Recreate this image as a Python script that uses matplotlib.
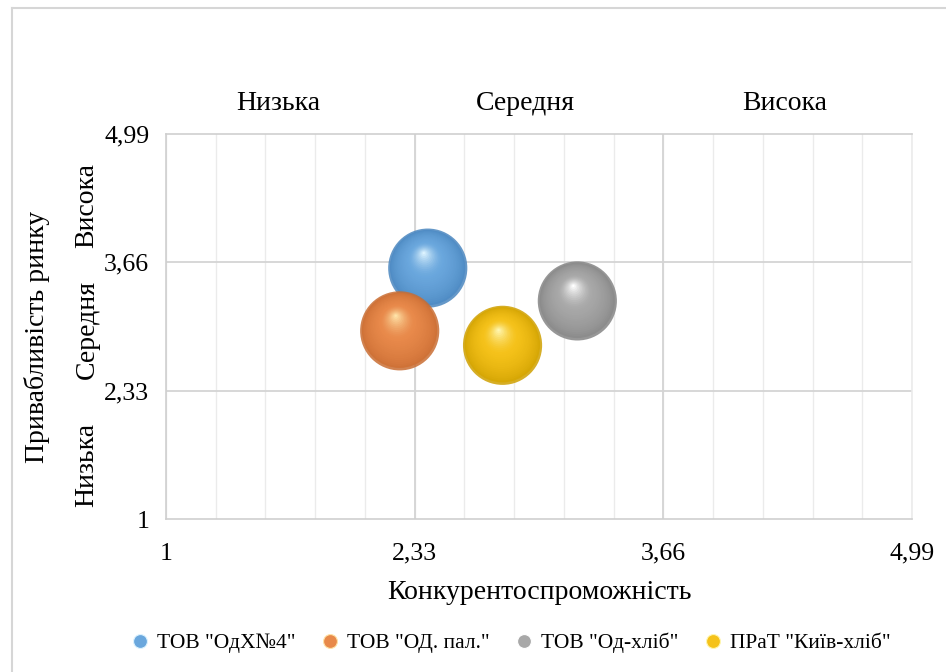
import numpy as np
import matplotlib
matplotlib.use("Agg")
import matplotlib.pyplot as plt
from matplotlib.transforms import ScaledTranslation, blended_transform_factory
from matplotlib.colors import to_rgb
from matplotlib.lines import Line2D

plt.rcParams['font.family'] = ['Liberation Serif', 'DejaVu Serif']

# ---- data ----
companies = ['ТОВ "ОдХ№4"', 'ТОВ "ОД. пал."', 'ТОВ "Од-хліб"', 'ПРаТ "Київ-хліб"']
competitiveness = [2.40, 2.25, 3.20, 2.80]
attractiveness = [3.60, 2.95, 3.26, 2.80]
bubble_colors = ['#6aa7dd', '#e8894a', '#a8a8a8', '#f5c21a']
highlight_colors = ['#ddf3ff', '#ffe3a8', '#ffffff', '#fff6b0']
edge_colors = ['#4a86bf', '#c96d33', '#858585', '#cfa000']
tick_values = [1, 2.33, 3.66, 4.99]
tick_labels = ['1', '2,33', '3,66', '4,99']
level_labels = ['Низька', 'Середня', 'Висока']
x_title = 'Конкурентоспроможність'
y_title = 'Привабливість ринку'

W, H = 946, 672
fig = plt.figure(figsize=(W / 100, H / 100), dpi=100)
fig.patch.set_facecolor('white')

# chart-area border (top & left visible)
fig.add_artist(Line2D([12 / W, 12 / W], [0, 1 - 8 / H], transform=fig.transFigure,
                      color='#d6d6d6', lw=1.5))
fig.add_artist(Line2D([12 / W, 1], [1 - 8 / H, 1 - 8 / H], transform=fig.transFigure,
                      color='#d6d6d6', lw=1.5))

ax = fig.add_axes([166 / W, 1 - 519 / H, (912 - 166) / W, (519 - 134) / H])
ax.set_xlim(tick_values[0], tick_values[-1])
ax.set_ylim(tick_values[0], tick_values[-1])

# grid
minor_x = np.linspace(tick_values[0], tick_values[-1], 16)
for xv in minor_x:
    ax.axvline(xv, color='#ebebeb', lw=1.0, zorder=0)
for v in tick_values[1:-1]:
    ax.axvline(v, color='#d4d4d4', lw=1.3, zorder=0)
    ax.axhline(v, color='#d4d4d4', lw=1.3, zorder=0)
for s in ax.spines.values():
    s.set_color('#cfcfcf')
    s.set_linewidth(1.2)
ax.spines['right'].set_color('#ebebeb')

ax.set_xticks(tick_values)
ax.set_xticklabels(tick_labels, fontsize=18.5)
ax.set_yticks(tick_values)
ax.set_yticklabels(tick_labels, fontsize=18.5)
ax.tick_params(axis='x', length=0, pad=17)
ax.tick_params(axis='y', length=0, pad=12)
ax.set_xlabel(x_title, fontsize=20, labelpad=11)

# spheres
R_pt = 28.5
N = 28
for xv, yv, c, hc, ec in zip(competitiveness, attractiveness, bubble_colors, highlight_colors, edge_colors):
    base = np.array(to_rgb(c)); hi = np.array(to_rgb(hc)); edge = np.array(to_rgb(ec))
    ax.scatter([xv], [yv], s=(2 * R_pt) ** 2, color=edge, edgecolors='none', zorder=3, alpha=0.85)
    for k in range(1, N + 1):
        t = k / N
        r = R_pt * (1 - 0.97 * t) * 0.985
        dx = -0.10 * R_pt * t / 72
        dy = 0.38 * R_pt * t / 72
        if t < 0.55:
            col = edge + (base - edge) * min(1, (t / 0.55) ** 0.6)
        else:
            col = base + (hi - base) * ((t - 0.55) / 0.45) ** 1.6
        tr = ax.transData + ScaledTranslation(dx, dy, fig.dpi_scale_trans)
        ax.scatter([xv], [yv], s=(2 * r) ** 2, color=np.clip(col, 0, 1), edgecolors='none',
                   transform=tr, zorder=3)

# top level labels
trx = blended_transform_factory(ax.transData, fig.transFigure)
for lab, xp in zip(level_labels, [1.60, 2.92, 4.31]):
    ax.text(xp, 1 - 103 / H, lab, transform=trx, ha='center', va='center', fontsize=20)

# left level labels
try_ = blended_transform_factory(fig.transFigure, ax.transData)
for lab, yp in zip(level_labels, [1.56, 2.96, 4.25]):
    ax.text(87 / W, yp, lab, transform=try_, ha='center', va='center', rotation=90, fontsize=20)
fig.text(37 / W, 1 - 337 / H, y_title, ha='center', va='center', rotation=90, fontsize=20)

# legend
handles = [Line2D([], [], marker='o', ls='none', markersize=10, markerfacecolor=c,
                  markeredgecolor=hc, markeredgewidth=0.8) for c, hc in zip(bubble_colors, highlight_colors)]
fig.legend(handles, companies, loc='center', bbox_to_anchor=(0.539, 1 - 643 / H), ncol=4,
           frameon=False, fontsize=15.5, handletextpad=0.3, columnspacing=1.1, handlelength=1.0)

fig.savefig('out.png', dpi=100, facecolor='white')
